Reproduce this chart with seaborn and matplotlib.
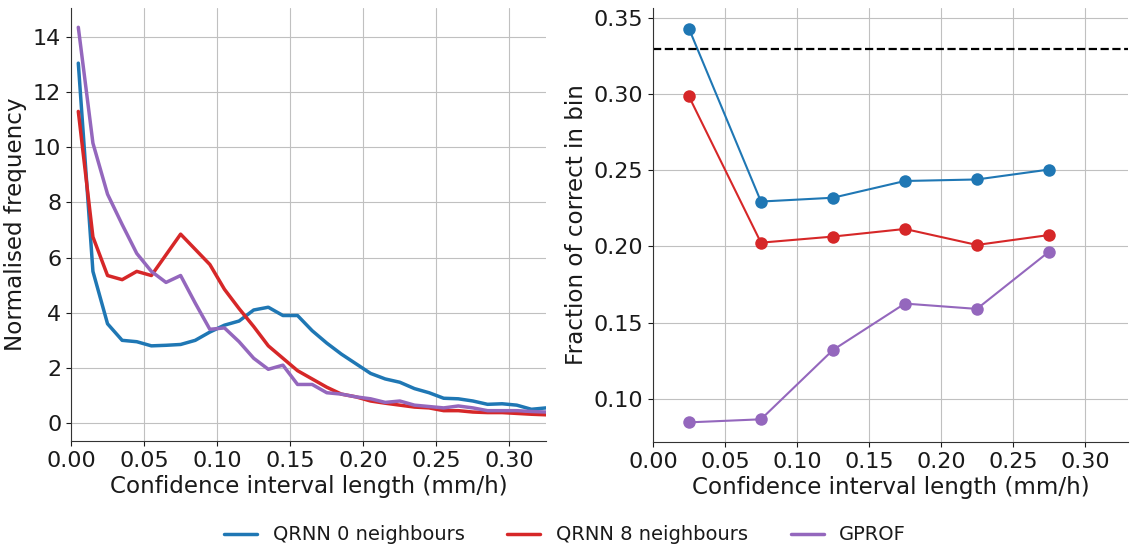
import numpy as np
import pandas as pd
import matplotlib
matplotlib.use("Agg")
import matplotlib.pyplot as plt
import seaborn as sns

# ---- data ----
bin_centres = [0.005, 0.015, 0.025, 0.035, 0.045, 0.055, 0.065, 0.075, 0.085, 0.095,
               0.105, 0.115, 0.125, 0.135, 0.145, 0.155, 0.165, 0.175, 0.185, 0.195,
               0.205, 0.215, 0.225, 0.235, 0.245, 0.255, 0.265, 0.275, 0.285, 0.295,
               0.305, 0.315, 0.325]
freq_qrnn0 = [13.05, 5.5, 3.6, 3.0, 2.95, 2.8, 2.82, 2.85, 3.0, 3.3,
              3.55, 3.7, 4.1, 4.2, 3.9, 3.9, 3.35, 2.9, 2.5, 2.15,
              1.8, 1.6, 1.48, 1.25, 1.1, 0.9, 0.88, 0.8, 0.68, 0.7,
              0.65, 0.5, 0.55]
freq_qrnn8 = [11.3, 6.75, 5.35, 5.2, 5.5, 5.35, 6.1, 6.85, 6.3, 5.75,
              4.85, 4.15, 3.5, 2.8, 2.35, 1.9, 1.6, 1.3, 1.05, 0.95,
              0.8, 0.72, 0.65, 0.58, 0.55, 0.45, 0.45, 0.4, 0.38, 0.38,
              0.35, 0.32, 0.3]
freq_gprof = [14.35, 10.15, 8.3, 7.2, 6.15, 5.5, 5.1, 5.35, 4.35, 3.4,
              3.45, 2.95, 2.35, 1.95, 2.1, 1.4, 1.4, 1.1, 1.05, 0.95,
              0.88, 0.75, 0.8, 0.65, 0.6, 0.55, 0.62, 0.55, 0.45, 0.45,
              0.45, 0.42, 0.4]

frac_bins = [0.025, 0.075, 0.125, 0.175, 0.225, 0.275]
frac_qrnn0 = [0.343, 0.2295, 0.232, 0.243, 0.244, 0.2505]
frac_qrnn8 = [0.2985, 0.2025, 0.2065, 0.2115, 0.201, 0.2075]
frac_gprof = [0.0845, 0.0865, 0.132, 0.1625, 0.159, 0.1965]
nominal = 0.33

labels = ["QRNN 0 neighbours", "QRNN 8 neighbours", "GPROF"]
colors = ["#1f77b4", "#d62728", "#9467bd"]

sns.set_style("ticks")
plt.rcParams["font.family"] = ["DejaVu Sans"]
plt.rcParams["font.size"] = 16
plt.rcParams["text.color"] = "#1a1a1a"
plt.rcParams["axes.labelcolor"] = "#1a1a1a"
plt.rcParams["xtick.color"] = "#1a1a1a"
plt.rcParams["ytick.color"] = "#1a1a1a"

df_left = pd.DataFrame({
    "x": bin_centres * 3,
    "y": freq_qrnn0 + freq_qrnn8 + freq_gprof,
    "method": [labels[0]] * len(bin_centres) + [labels[1]] * len(bin_centres) + [labels[2]] * len(bin_centres),
})
df_right = pd.DataFrame({
    "x": frac_bins * 3,
    "y": frac_qrnn0 + frac_qrnn8 + frac_gprof,
    "method": [labels[0]] * len(frac_bins) + [labels[1]] * len(frac_bins) + [labels[2]] * len(frac_bins),
})
palette = dict(zip(labels, colors))

fig = plt.figure(figsize=(11.3, 5.46), dpi=100)
ax1 = fig.add_axes([71 / 1130, 1 - 441 / 546, 475 / 1130, 433 / 546])
ax2 = fig.add_axes([653 / 1130, 1 - 442 / 546, 475 / 1130, 434 / 546])

sns.lineplot(data=df_left, x="x", y="y", hue="method", palette=palette, ax=ax1,
             linewidth=2.5, legend=False)
ax1.set_xlim(0, 0.325)
ax1.set_ylim(-0.65, 15.05)
ax1.set_xticks([0.0, 0.05, 0.1, 0.15, 0.2, 0.25, 0.3])
ax1.set_yticks([0, 2, 4, 6, 8, 10, 12, 14])
ax1.set_xlabel("Confidence interval length (mm/h)", fontsize=16.6, labelpad=3)
ax1.set_ylabel("Normalised frequency", fontsize=16.6)

sns.lineplot(data=df_right, x="x", y="y", hue="method", palette=palette, ax=ax2,
             linewidth=1.5, marker="o", markersize=9, markeredgewidth=0, legend=False)
ax2.axhline(nominal, color="black", linestyle="--", linewidth=1.6)
ax2.set_xlim(0, 0.33)
ax2.set_ylim(0.0716, 0.3566)
ax2.set_xticks([0.0, 0.05, 0.1, 0.15, 0.2, 0.25, 0.3])
ax2.set_yticks([0.10, 0.15, 0.20, 0.25, 0.30, 0.35])
ax2.set_xlabel("Confidence interval length (mm/h)", fontsize=16.6, labelpad=3)
ax2.set_ylabel("Fraction of correct in bin", fontsize=16.6)

for ax in (ax1, ax2):
    ax.grid(True, color="#c0c0c0", linewidth=0.8)
    ax.set_axisbelow(True)
    sns.despine(ax=ax)
    ax.tick_params(labelsize=16)
    for s in ("left", "bottom"):
        ax.spines[s].set_color("#333333")

ax2.yaxis.set_major_formatter(matplotlib.ticker.FormatStrFormatter("%.2f"))
ax1.xaxis.set_major_formatter(matplotlib.ticker.FormatStrFormatter("%.2f"))
ax2.xaxis.set_major_formatter(matplotlib.ticker.FormatStrFormatter("%.2f"))

handles = [matplotlib.lines.Line2D([], [], color=c, linewidth=2.5) for c in colors]
fig.legend(handles, labels, loc="center", bbox_to_anchor=(0.5, 1 - 535 / 546),
           ncol=3, frameon=False, fontsize=14, handlelength=1.7, columnspacing=2.2)

fig.savefig("out.png", dpi=100)
